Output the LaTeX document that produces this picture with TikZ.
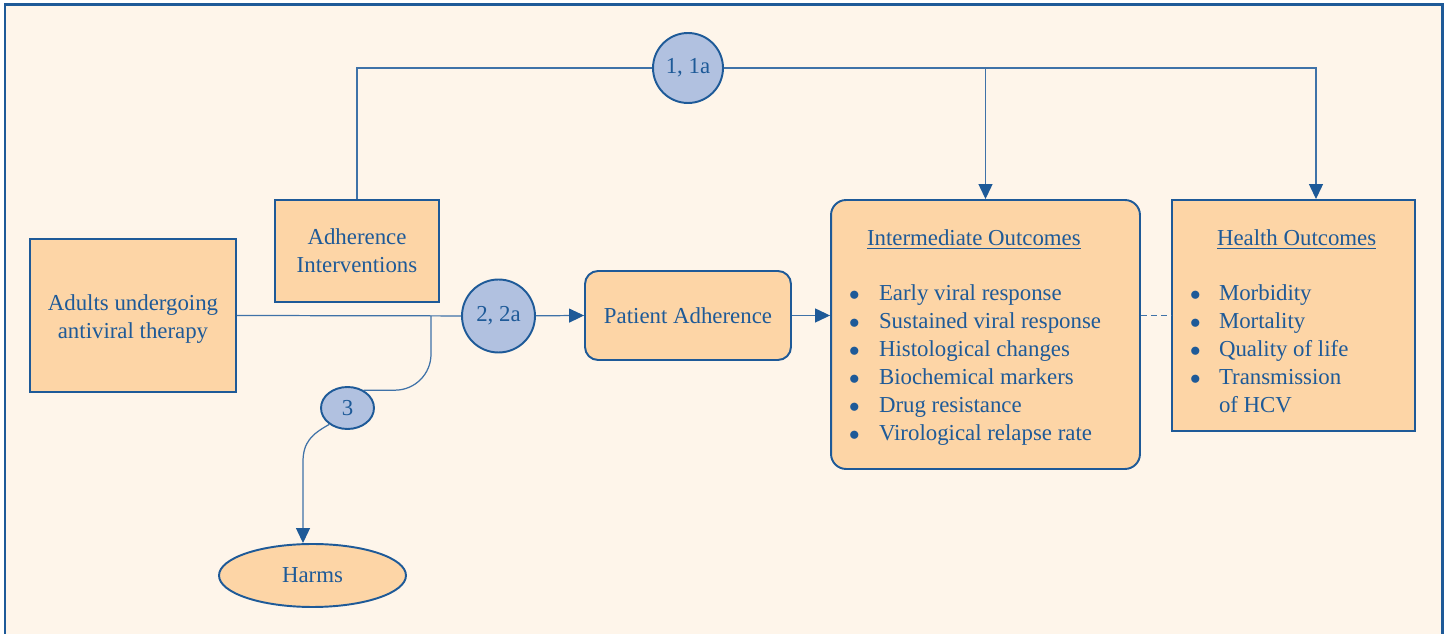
\documentclass[tikz,border=0pt]{standalone}
\usepackage{fontspec}
\setmainfont{Liberation Serif}
\usetikzlibrary{arrows.meta,shapes.geometric}
\definecolor{frameblue}{HTML}{1E5A98}
\definecolor{lineblue}{HTML}{3F72A8}
\definecolor{peach}{HTML}{FDD5A6}
\definecolor{cream}{HTML}{FEF5EA}
\definecolor{lilac}{HTML}{B1C1E0}
\tikzset{
  box/.style={draw=frameblue, line width=1.1pt, fill=peach, text=frameblue, align=center, inner sep=0pt},
  roundbox/.style={box, rounded corners=0.26cm},
  kq/.style={ellipse, draw=frameblue, line width=1.1pt, fill=lilac, text=frameblue, inner sep=0pt},
  link/.style={draw=lineblue, line width=0.7pt},
}
\begin{document}
\begin{tikzpicture}[x=0.02cm, y=-0.02cm, >={Triangle[length=0.3cm,width=0.28cm,color=frameblue]},
  font=\fontsize{13}{15.9}\selectfont]
\useasboundingbox (0,0) rectangle (1445,634);
% Rahmen
\draw[draw=frameblue, line width=1.7pt, fill=cream] (5,5) rectangle (1442,660);
% Kaesten
\node[box, minimum width=4.12cm, minimum height=3.06cm] (adults) at (133,315.5) {\rule{0pt}{0.47cm}Adults undergoing\\antiviral therapy};
\node[box, minimum width=3.28cm, minimum height=2.04cm] (adh) at (357,251) {Adherence\\Interventions};
\node[roundbox, minimum width=4.12cm, minimum height=1.78cm] (pat) at (688,315.5) {Patient Adherence};
\node[roundbox, rounded corners=0.3cm, minimum width=6.18cm, minimum height=5.38cm] (inter) at (985.5,334.5)
  {\begin{tabular}{@{}p{0.6cm}@{}p{4.86cm}@{}}
   \multicolumn{2}{@{}l@{}}{\rule{0pt}{0.51cm}\hspace{0.36cm}\underline{Intermediate Outcomes}}\\[0.54cm]
   $\bullet$ & Early viral response\\
   $\bullet$ & Sustained viral response\\
   $\bullet$ & Histological changes\\
   $\bullet$ & Biochemical markers\\
   $\bullet$ & Drug resistance\\
   $\bullet$ & Virological relapse rate
   \end{tabular}};
\node[box, minimum width=4.86cm, minimum height=4.62cm] (health) at (1293.5,315.5)
  {\begin{tabular}{@{}p{0.58cm}@{}p{3.56cm}@{}}
   \multicolumn{2}{@{}l@{}}{\rule{0pt}{0.71cm}\hspace{0.54cm}\underline{Health Outcomes}}\\[0.54cm]
   $\bullet$ & Morbidity\\
   $\bullet$ & Mortality\\
   $\bullet$ & Quality of life\\
   $\bullet$ & Transmission\\
             & of HCV
   \end{tabular}};
\node[box, ellipse, minimum width=3.74cm, minimum height=1.26cm] (harms) at (312.5,575.5) {Harms};
% Schluesselfragen
\node[kq, minimum width=1.4cm, minimum height=1.4cm] (c1) at (688,68) {1, 1a};
\node[kq, minimum width=1.46cm, minimum height=1.46cm] (c2) at (498.5,316) {2, 2a};
\node[kq, minimum width=1.06cm, minimum height=0.84cm] (c3) at (347.5,408) {3};
\coordinate (br) at (431,316);
\coordinate (hb) at (303,462);
% Verbindungen
\draw[link] (adh.north) |- (c1);
\draw[link, ->] (c1) -| (inter.north);
\draw[link, ->] (c1) -| ([xshift=0.45cm]health.north);
\draw[link] (adults.east) -- (c2);
\draw[link, ->] (c2) -- (pat.west);
\draw[link, ->] (pat.east) -- (pat.east -| inter.west);
\draw[link, dash pattern=on 3.4pt off 2.3pt] (inter.east |- health.west) -- (health.west);
\draw[link, rounded corners=0.72cm] (br) |- (c3.48);
\draw[link, ->] (c3.222) .. controls (312,434) and (303,442) .. (hb) -- (hb |- harms.north);
\end{tikzpicture}
\end{document}
